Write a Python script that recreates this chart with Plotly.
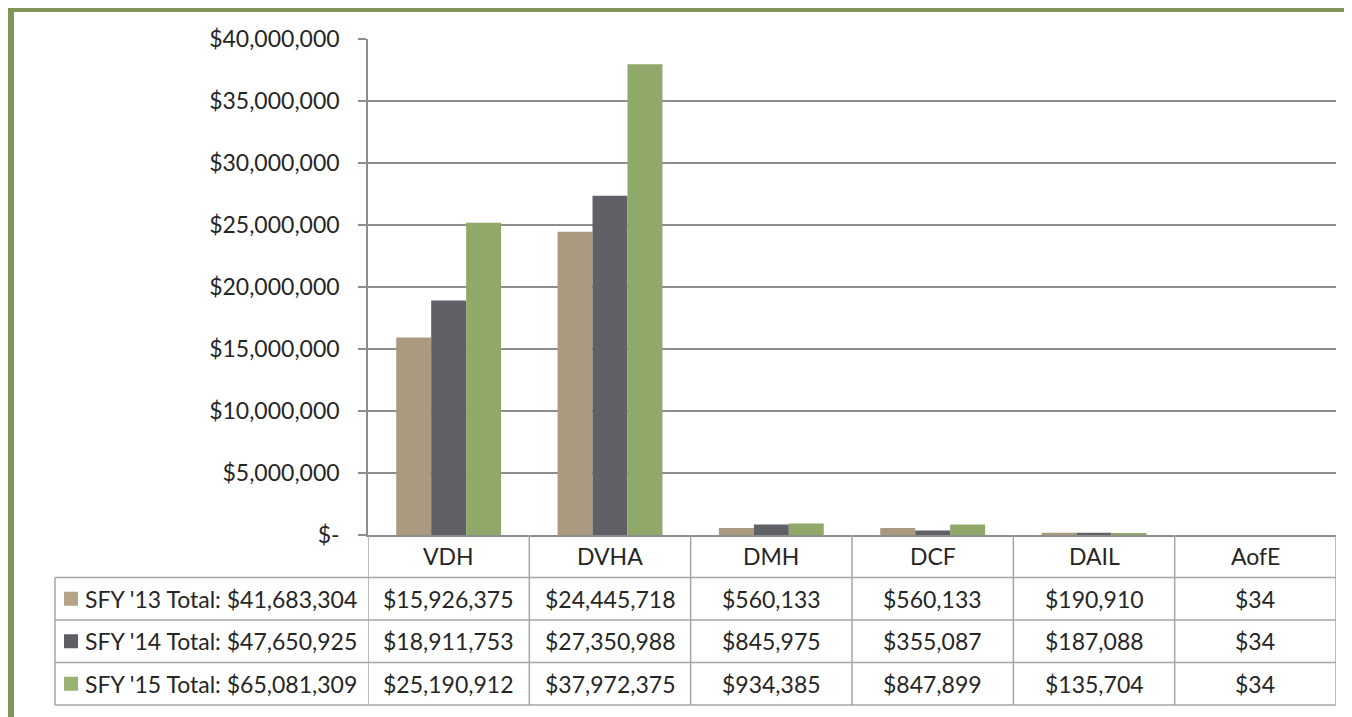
import plotly.graph_objects as go

# data
categories = ["VDH", "DVHA", "DMH", "DCF", "DAIL", "AofE"]
series_names = ["SFY '13", "SFY '14", "SFY '15"]
series_totals = [41683304, 47650925, 65081309]
sfy13 = [15926375, 24445718, 560133, 560133, 190910, 34]
sfy14 = [18911753, 27350988, 845975, 355087, 187088, 34]
sfy15 = [25190912, 37972375, 934385, 847899, 135704, 34]
series_values = [sfy13, sfy14, sfy15]
colors = ["#ab9a80", "#616066", "#91a86b"]
key_colors = ["#b6a488", "#5f5e66", "#9ab271"]

tick_vals = [0, 5e6, 10e6, 15e6, 20e6, 25e6, 30e6, 35e6, 40e6]
tick_text = ["$-", "$5,000,000", "$10,000,000", "$15,000,000", "$20,000,000",
             "$25,000,000", "$30,000,000", "$35,000,000", "$40,000,000"]

# the page body has an 8px margin, so work in screen pixels and shift
OFF = 8
W, H = 1352 - OFF, 717 - OFF
L, R, T, B = 368 - OFF, 16, 39 - OFF, 717 - 535
pw, ph = W - L - R, H - T - B
FONT = "Lato"
FS = 23
TXT = "#262626"
GRID = "#8e8e8e"
TLINE = "#a6a6a6"


def px(x):
    # screen x -> paper x
    return (x - OFF - L) / pw


def py(y):
    # screen y -> paper y
    return (H - B - (y - OFF)) / ph


fig = go.Figure()
for name, vals, c in zip(series_names, series_values, colors):
    fig.add_trace(go.Bar(x=categories, y=vals, name=name, marker_color=c,
                         marker_line_width=0, showlegend=False))

shapes = []
annotations = []

# green frame
shapes.append(dict(type="rect", xref="paper", yref="paper", x0=px(8), x1=px(1360),
                   y0=py(6), y1=py(12), fillcolor="#7f9658", line_width=0, layer="above"))
shapes.append(dict(type="rect", xref="paper", yref="paper", x0=px(8), x1=px(14),
                   y0=py(6), y1=py(725), fillcolor="#7f9658", line_width=0, layer="above"))

# data table grid
row_edges = [535, 577.5, 620, 662.5, 705]
for ye in row_edges[1:]:
    shapes.append(dict(type="line", xref="paper", yref="paper", x0=px(55), x1=1,
                       y0=py(ye), y1=py(ye), line=dict(color=TLINE, width=1.5)))
shapes.append(dict(type="line", xref="paper", yref="paper", x0=px(55), x1=px(55),
                   y0=py(row_edges[1]), y1=py(row_edges[-1]), line=dict(color=TLINE, width=1.5)))
for k in range(len(categories) + 1):
    shapes.append(dict(type="line", xref="x", yref="paper", x0=k - 0.5, x1=k - 0.5,
                       y0=0, y1=py(row_edges[-1]), line=dict(color=TLINE, width=1.5)))

# header row: category names
hy = py((row_edges[0] + row_edges[1]) / 2)
for c in categories:
    annotations.append(dict(x=c, y=hy, xref="x", yref="paper", text=c, showarrow=False,
                            yanchor="middle", font=dict(family=FONT, size=FS, color=TXT)))

# series rows
for i, (name, tot, vals) in enumerate(zip(series_names, series_totals, series_values)):
    cy = py((row_edges[i + 1] + row_edges[i + 2]) / 2)
    shapes.append(dict(type="rect", xref="paper", yref="paper", x0=px(64), x1=px(78),
                       y0=cy - 7 / ph, y1=cy + 7 / ph, fillcolor=key_colors[i], line_width=0))
    annotations.append(dict(x=px(83), y=cy, xref="paper", yref="paper", xanchor="left",
                            yanchor="middle", text=f"{name} Total: ${tot:,}", showarrow=False,
                            font=dict(family=FONT, size=FS, color=TXT)))
    for c, v in zip(categories, vals):
        annotations.append(dict(x=c, y=cy, xref="x", yref="paper", text=f"${v:,}",
                                yanchor="middle", showarrow=False,
                                font=dict(family=FONT, size=FS, color=TXT)))

fig.update_layout(
    width=W, height=H,
    margin=dict(l=L, r=R, t=T, b=B),
    paper_bgcolor="white", plot_bgcolor="white",
    barmode="group", bargap=0.35, bargroupgap=0,
    font=dict(family=FONT, size=FS, color=TXT),
    shapes=shapes, annotations=annotations,
    xaxis=dict(showticklabels=False, showline=True, linecolor=GRID, linewidth=1.5,
               ticks="", showgrid=False, range=[-0.5, len(categories) - 0.5]),
    yaxis=dict(range=[0, 40e6], tickvals=tick_vals, ticktext=tick_text,
               showgrid=True, gridcolor=GRID, gridwidth=1.5, zeroline=False,
               showline=True, linecolor=GRID, linewidth=1.5,
               ticks="outside", ticklen=8, tickcolor=GRID, tickwidth=1.5,
               ticklabelstandoff=14, tickfont=dict(family=FONT, size=FS, color=TXT)),
)

fig.write_html("out.html")
